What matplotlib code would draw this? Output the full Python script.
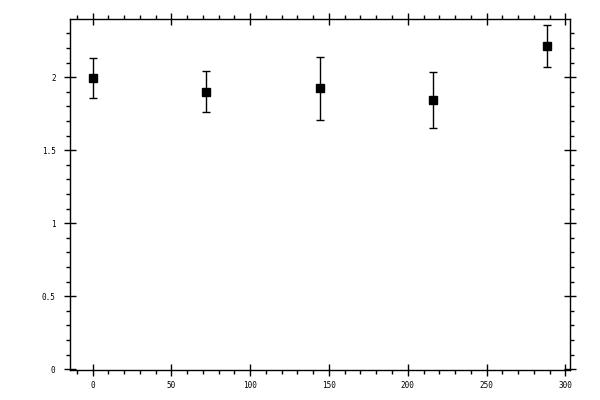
import matplotlib
matplotlib.use("Agg")
import matplotlib.pyplot as plt
from matplotlib.ticker import MultipleLocator
import numpy as np

x = [0, 72, 144, 216, 288]
y = [1.993, 1.897, 1.925, 1.842, 2.212]
err_low = [0.137, 0.137, 0.220, 0.191, 0.144]
err_high = [0.137, 0.144, 0.212, 0.192, 0.144]

fig = plt.figure(figsize=(6, 4), dpi=100)
ax = fig.add_axes([69.5/600, 1-370/400, (570-69.5)/600, (370-19.3)/400])

ax.errorbar(x, y, yerr=[err_low, err_high], fmt='s', color='black',
            markersize=5.8, ecolor='black', elinewidth=1, capsize=2.8, capthick=1)

ax.set_xlim(-14.6, 302.9)
ax.set_ylim(-0.005, 2.397)
ax.xaxis.set_major_locator(MultipleLocator(50))
ax.xaxis.set_minor_locator(MultipleLocator(10))
ax.yaxis.set_major_locator(MultipleLocator(0.5))
ax.yaxis.set_minor_locator(MultipleLocator(0.1))
ax.set_yticks([0, 0.5, 1, 1.5, 2])
ax.set_yticklabels(['0', '0.5', '1', '1.5', '2'])

ax.tick_params(which='major', direction='inout', length=8, width=1,
               top=True, right=True, labelsize=5.5)
ax.tick_params(which='minor', direction='out', length=3, width=1,
               top=True, right=True)
ax.tick_params(axis='x', which='major', pad=4)
ax.tick_params(axis='y', which='major', pad=6)
for lab in ax.get_xticklabels() + ax.get_yticklabels():
    lab.set_family('DejaVu Sans Mono')
for s in ax.spines.values():
    s.set_linewidth(1.0)

fig.savefig('out.png', dpi=100)
